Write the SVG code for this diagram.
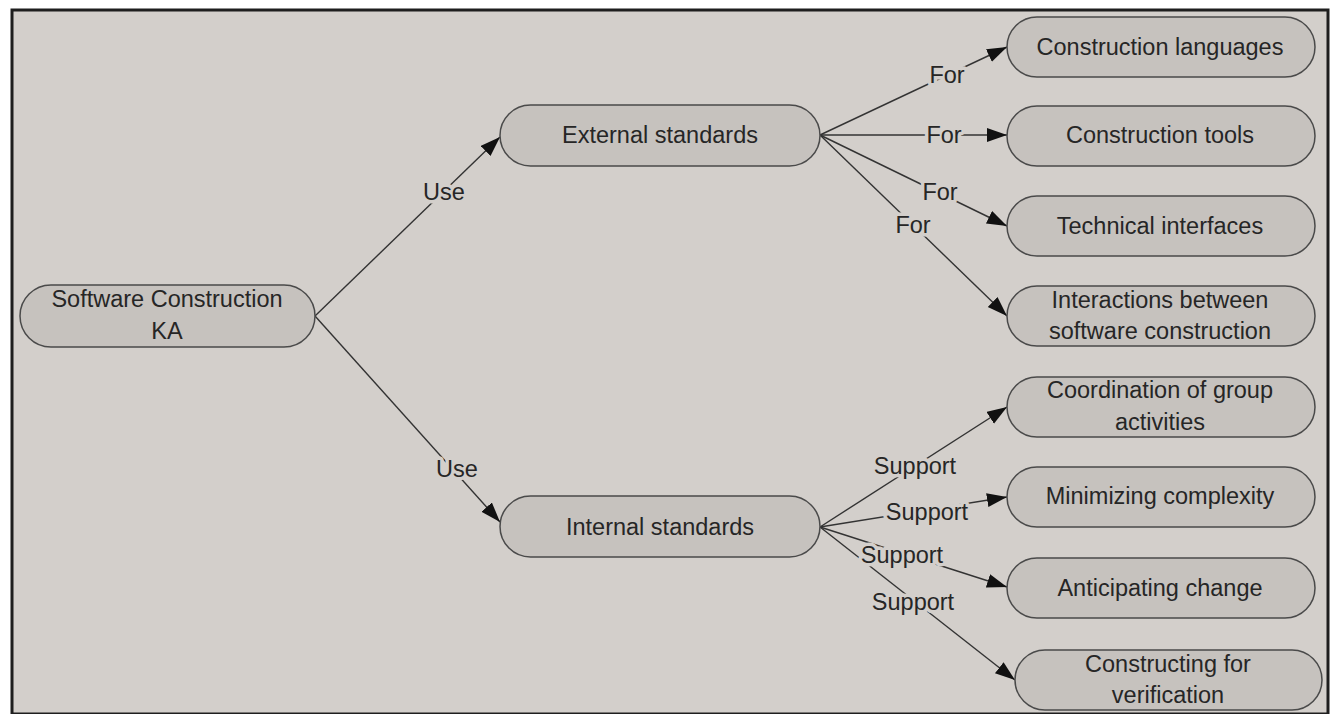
<svg xmlns="http://www.w3.org/2000/svg" width="1335" height="714" viewBox="0 0 1335 714">
<defs>
<marker id="arr" markerUnits="userSpaceOnUse" markerWidth="22" markerHeight="16" refX="20" refY="7" orient="auto">
<path d="M0,0 L20,7 L0,14 Z" fill="#111"/>
</marker>
<style>
.node rect{fill:#c6c2be;stroke:#4a4a4a;stroke-width:1.5}
.node text{font-family:"Liberation Sans",Arial,sans-serif;font-size:23.5px;fill:#262626;text-anchor:middle}
.edge line{stroke:#333;stroke-width:1.4;marker-end:url(#arr)}
.lbl{font-family:"Liberation Sans",Arial,sans-serif;font-size:23.5px;fill:#262626;text-anchor:middle;stroke:#d3cfcb;stroke-width:7;paint-order:stroke;stroke-linejoin:round}
</style>
</defs>
<rect x="0" y="0" width="1335" height="714" fill="#ffffff"/>
<rect x="12" y="10" width="1316" height="704" fill="#d3cfcb" stroke="#1e1e1e" stroke-width="3"/>

<g id="connectors" class="edge">
<line x1="315" y1="316" x2="500" y2="137"/>
<line x1="315" y1="316" x2="500" y2="522"/>
<line x1="820" y1="135" x2="1007" y2="47"/>
<line x1="820" y1="135" x2="1007" y2="135"/>
<line x1="820" y1="135" x2="1007" y2="226"/>
<line x1="820" y1="135" x2="1007" y2="316"/>
<line x1="820" y1="527" x2="1007" y2="407"/>
<line x1="820" y1="527" x2="1007" y2="497"/>
<line x1="820" y1="527" x2="1007" y2="587"/>
<line x1="820" y1="527" x2="1015" y2="680"/>
<text class="lbl" x="444" y="200">Use</text>
<text class="lbl" x="457" y="477">Use</text>
<text class="lbl" x="947" y="83">For</text>
<text class="lbl" x="944" y="143">For</text>
<text class="lbl" x="940" y="200">For</text>
<text class="lbl" x="913" y="233">For</text>
<text class="lbl" x="915" y="474">Support</text>
<text class="lbl" x="927" y="520">Support</text>
<text class="lbl" x="902" y="563">Support</text>
<text class="lbl" x="913" y="610">Support</text>
</g>

<g id="ka" class="node"><rect x="20" y="285" width="295" height="62" rx="31"/><text x="167" y="307">Software Construction</text><text x="167" y="339">KA</text></g>
<g id="external" class="node"><rect x="500" y="105" width="320" height="61" rx="30.5"/><text x="660" y="143">External standards</text></g>
<g id="internal" class="node"><rect x="500" y="496" width="320" height="61" rx="30.5"/><text x="660" y="535">Internal standards</text></g>
<g id="languages" class="node"><rect x="1007" y="17" width="308" height="60" rx="30"/><text x="1160" y="55">Construction languages</text></g>
<g id="tools" class="node"><rect x="1007" y="106" width="308" height="60" rx="30"/><text x="1160" y="143">Construction tools</text></g>
<g id="interfaces" class="node"><rect x="1007" y="196" width="308" height="60" rx="30"/><text x="1160" y="234">Technical interfaces</text></g>
<g id="interactions" class="node"><rect x="1007" y="286" width="308" height="60" rx="30"/><text x="1160" y="308">Interactions between</text><text x="1160" y="339">software construction</text></g>
<g id="coordination" class="node"><rect x="1007" y="377" width="308" height="60" rx="30"/><text x="1160" y="398">Coordination of group</text><text x="1160" y="430">activities</text></g>
<g id="minimizing" class="node"><rect x="1007" y="467" width="308" height="60" rx="30"/><text x="1160" y="504">Minimizing complexity</text></g>
<g id="anticipating" class="node"><rect x="1007" y="558" width="308" height="60" rx="30"/><text x="1160" y="596">Anticipating change</text></g>
<g id="verification" class="node"><rect x="1015" y="650" width="307" height="60" rx="30"/><text x="1168" y="672">Constructing for</text><text x="1168" y="703">verification</text></g>
</svg>
